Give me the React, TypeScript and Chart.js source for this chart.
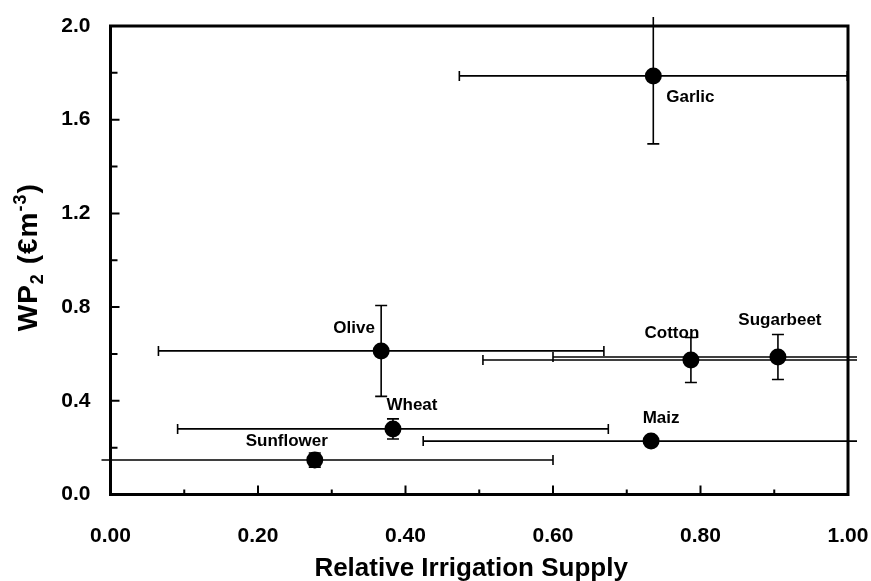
import React, { useEffect, useRef } from "react";
import { Chart, registerables } from "chart.js";

Chart.register(...registerables);

// ---- data ----
const crops = ["Garlic", "Olive", "Cotton", "Sugarbeet", "Wheat", "Maiz", "Sunflower"];
const supply = [0.736, 0.367, 0.787, 0.905, 0.383, 0.733, 0.277];
const wp2 = [1.787, 0.613, 0.574, 0.587, 0.28, 0.228, 0.147];
const supplyErr = [0.263, 0.302, 0.282, 0.305, 0.292, 0.309, 0.323];
const wp2Err = [0.29, 0.194, 0.096, 0.096, 0.043, 0.01, 0.03];
const xTickLabels = ["0.00", "0.20", "0.40", "0.60", "0.80", "1.00"];
const yTickLabels = ["0.0", "0.4", "0.8", "1.2", "1.6", "2.0"];
const xTitle = "Relative Irrigation Supply";

// ---- label placement (pixel offsets of label centre from its point) ----
const labelOffsets: [number, number][] = [
  [37, 21],
  [-27, -23],
  [-19, -27],
  [2, -37],
  [19, -24],
  [10, -23],
  [-28, -19],
];

const FAMILY = "'Liberation Sans', Arial, sans-serif";

const decorPlugin = {
  id: "decor",
  beforeDatasetsDraw(chart: any) {
    const { ctx, chartArea: a, scales } = chart;
    const x = scales.x, y = scales.y;
    ctx.save();
    ctx.beginPath();
    ctx.rect(a.left - 9, a.top - 9, a.right - a.left + 18, a.bottom - a.top + 18);
    ctx.clip();
    ctx.strokeStyle = "#000";
    ctx.lineWidth = 1.6;
    supply.forEach((sx, i) => {
      const px = x.getPixelForValue(sx);
      const py = y.getPixelForValue(wp2[i]);
      const x0 = x.getPixelForValue(sx - supplyErr[i]);
      const x1 = x.getPixelForValue(sx + supplyErr[i]);
      const y0 = y.getPixelForValue(wp2[i] - wp2Err[i]);
      const y1 = y.getPixelForValue(wp2[i] + wp2Err[i]);
      ctx.beginPath();
      ctx.moveTo(x0, py); ctx.lineTo(x1, py);
      ctx.moveTo(x0, py - 5); ctx.lineTo(x0, py + 5);
      ctx.moveTo(x1, py - 5); ctx.lineTo(x1, py + 5);
      ctx.moveTo(px, y0); ctx.lineTo(px, y1);
      ctx.moveTo(px - 6, y0); ctx.lineTo(px + 6, y0);
      ctx.moveTo(px - 6, y1); ctx.lineTo(px + 6, y1);
      ctx.stroke();
    });
    ctx.restore();
  },
  afterDatasetsDraw(chart: any) {
    const { ctx, scales } = chart;
    const x = scales.x, y = scales.y;
    ctx.save();
    ctx.fillStyle = "#000";
    ctx.font = `bold 17px ${FAMILY}`;
    ctx.textAlign = "center";
    ctx.textBaseline = "middle";
    crops.forEach((name, i) => {
      const px = x.getPixelForValue(supply[i]);
      const py = y.getPixelForValue(wp2[i]);
      ctx.fillText(name, px + labelOffsets[i][0], py + labelOffsets[i][1]);
    });
    ctx.restore();
  },
  afterDraw(chart: any) {
    const { ctx, chartArea: a, scales } = chart;
    const x = scales.x, y = scales.y;
    ctx.save();
    ctx.strokeStyle = "#000";
    // inner tick marks
    ctx.lineWidth = 2;
    ctx.beginPath();
    for (let k = 1; k < 10; k++) {
      const v = k / 10;
      const px = x.getPixelForValue(v);
      const len = k % 2 === 0 ? 9 : 5;
      ctx.moveTo(px, a.bottom); ctx.lineTo(px, a.bottom - len);
    }
    for (let k = 1; k < 10; k++) {
      const v = k * 0.2;
      const py = y.getPixelForValue(v);
      const len = k % 2 === 0 ? 9 : 7;
      ctx.moveTo(a.left, py); ctx.lineTo(a.left + len, py);
    }
    ctx.stroke();
    // frame
    ctx.lineWidth = 3;
    ctx.strokeRect(a.left, a.top, a.right - a.left, a.bottom - a.top);

    // x-axis title
    ctx.fillStyle = "#000";
    ctx.font = `bold 26px ${FAMILY}`;
    ctx.textAlign = "center";
    ctx.textBaseline = "alphabetic";
    ctx.fillText(xTitle, a.left + (a.right - a.left) * 0.489, 576);

    // y-axis title with subscript / superscript
    const big = `bold 28px ${FAMILY}`;
    const small = `bold 18px ${FAMILY}`;
    const parts: [string, string, number][] = [
      ["WP", big, 0],
      ["2", small, 6],
      [" (€m", big, 0],
      ["-3", small, -11],
      [")", big, 0],
    ];
    (ctx as any).letterSpacing = "1px";
    let total = 0;
    parts.forEach(([t, f]) => { ctx.font = f; total += ctx.measureText(t).width; });
    const cy = (a.top + a.bottom) / 2 - 3;
    ctx.translate(37, cy);
    ctx.rotate(-Math.PI / 2);
    ctx.textAlign = "left";
    ctx.textBaseline = "alphabetic";
    let cx = -total / 2;
    parts.forEach(([t, f, dy]) => {
      ctx.font = f;
      ctx.fillText(t, cx, dy);
      cx += ctx.measureText(t).width;
    });
    ctx.restore();
  },
};

export default function App() {
  const ref = useRef<HTMLCanvasElement | null>(null);
  useEffect(() => {
    if (!ref.current) return;
    const chart = new Chart(ref.current, {
      type: "scatter",
      data: {
        datasets: [
          {
            data: supply.map((v, i) => ({ x: v, y: wp2[i] })),
            pointRadius: 8.5,
            pointHoverRadius: 8.5,
            backgroundColor: "#000",
            borderColor: "#000",
            borderWidth: 0,
          },
        ],
      },
      options: {
        responsive: false,
        animation: false,
        devicePixelRatio: 1,
        layout: { padding: { top: 26, right: 23, left: 0, bottom: 0 } },
        plugins: { legend: { display: false }, tooltip: { enabled: false } },
        scales: {
          x: {
            type: "linear",
            min: 0,
            max: 1,
            grid: { display: false, drawTicks: false, tickLength: 0 },
            border: { display: false },
            ticks: {
              stepSize: 0.2,
              padding: 29,
              color: "#000",
              maxRotation: 0,
              autoSkip: false,
              font: { family: FAMILY, size: 21, weight: "bold" },
              callback: (_v: any, i: number) => xTickLabels[i],
            },
            title: { display: false },
            afterFit: (s: any) => {
              s.height = 86.5;
              s.paddingLeft = 0;
              s.paddingRight = 0;
            },
          },
          y: {
            type: "linear",
            min: 0,
            max: 2,
            grid: { display: false, drawTicks: false, tickLength: 0 },
            border: { display: false },
            ticks: {
              stepSize: 0.4,
              padding: 20,
              color: "#000",
              autoSkip: false,
              font: { family: FAMILY, size: 21, weight: "bold" },
              callback: (_v: any, i: number) => yTickLabels[i],
            },
            afterFit: (s: any) => {
              s.width = 110.5;
              s.paddingTop = 0;
              s.paddingBottom = 0;
            },
          },
        },
      },
      plugins: [decorPlugin],
    } as any);
    return () => chart.destroy();
  }, []);
  return (
    <div style={{ position: "absolute", left: 0, top: 0, width: 871, height: 581, background: "#fff" }}>
      <canvas ref={ref} width={871} height={581} />
    </div>
  );
}
